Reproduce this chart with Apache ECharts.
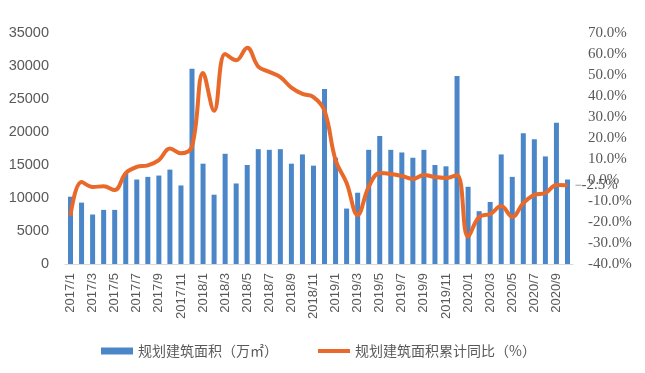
<!DOCTYPE html>
<html><head><meta charset="utf-8">
<script src="https://cdn.jsdelivr.net/npm/echarts@6/dist/echarts.min.js"></script>
<style>html,body{margin:0;padding:0;background:#fff}#c{width:645px;height:373px}</style>
</head><body><div id="c"></div>
<script>
const categories = [];
for (let y = 2017; y <= 2020; y++) for (let m = 1; m <= 12; m++) { if (y === 2020 && m > 10) break; categories.push(y + '/' + m); }
const areaValues = [10200,9300,7500,8200,8200,13800,12800,13200,13400,14300,11900,29600,
  15200,10500,16700,12200,15000,17400,17300,17400,15200,16600,14900,26500,
  16100,8400,10800,17300,19400,17300,16900,16100,17300,15000,14800,28500,
  11700,8000,9400,16600,13200,19800,18900,16300,21400,12800];
const yoyValues = [-17,-1,-3.3,-3,-4.8,3.3,6.2,7,9.5,15,12.7,16,
  51,33,60,57,63,54,51.5,49,44,41,39.5,33,
  9.5,-1.4,-16.7,-3.3,3.3,2.9,1.9,0.5,2.4,1.4,1,2.4,
  -27,-17.6,-16.2,-12.4,-17.6,-11,-7.1,-6.2,-2.4,-2.5];
const seriesNames = ['规划建筑面积（万㎡）', '规划建筑面积累计同比（%）'];
const lastLabel = '-2.5%';

const lineData = yoyValues.map((v, i) => i === yoyValues.length - 1 ? {
  value: v,
  label: { show: true, position: 'right', distance: 8, formatter: '{d|}' + lastLabel,
    fontFamily: 'Liberation Serif', fontSize: 15, color: '#595959',
    rich: { d: { width: 6, height: 0, borderColor: '#8c8c8c', borderWidth: 0.5 } } }
} : v);

const chart = echarts.init(document.getElementById('c'));
chart.setOption({
  animation: false,
  grid: { left: 65, right: 72, top: 33, bottom: 109 },
  legend: {
    bottom: 10, left: 96, itemGap: 40, itemWidth: 32, itemHeight: 7,
    textStyle: { fontSize: 14, color: '#595959', fontFamily: 'Noto Sans CJK SC' },
    data: [
      { name: seriesNames[0], icon: 'rect' },
      { name: seriesNames[1], icon: 'path://M0,0 L32,0 L32,4 L0,4 Z' }
    ]
  },
  xAxis: {
    type: 'category', data: categories,
    axisLine: { lineStyle: { color: '#d9d9d9' } },
    axisTick: { interval: 1, lineStyle: { color: '#d9d9d9' } },
    axisLabel: { interval: 1, rotate: 90, color: '#595959', fontSize: 13, fontFamily: 'Liberation Sans', margin: 9 }
  },
  yAxis: [
    { type: 'value', min: 0, max: 35000, interval: 5000,
      splitLine: { show: false }, axisLine: { show: false }, axisTick: { show: false },
      axisLabel: { color: '#595959', fontSize: 14.5, fontFamily: 'Liberation Sans', margin: 16,
        formatter: v => String(v) } },
    { type: 'value', min: -40, max: 70, interval: 10, position: 'right',
      splitLine: { show: false }, axisLine: { show: false }, axisTick: { show: false },
      axisLabel: { color: '#595959', fontSize: 15, fontFamily: 'Liberation Serif', margin: 15,
        formatter: v => v.toFixed(1) + '%' } }
  ],
  series: [
    { name: seriesNames[0], type: 'bar', data: areaValues, barWidth: 5,
      itemStyle: { color: '#4a86c8' } },
    { name: seriesNames[1], type: 'line', yAxisIndex: 1, data: lineData, smooth: 0.4,
      symbol: 'circle', symbolSize: 0, showSymbol: true,
      lineStyle: { color: '#e8692a', width: 4 }, itemStyle: { color: '#e8692a' } }
  ]
});
</script></body></html>
